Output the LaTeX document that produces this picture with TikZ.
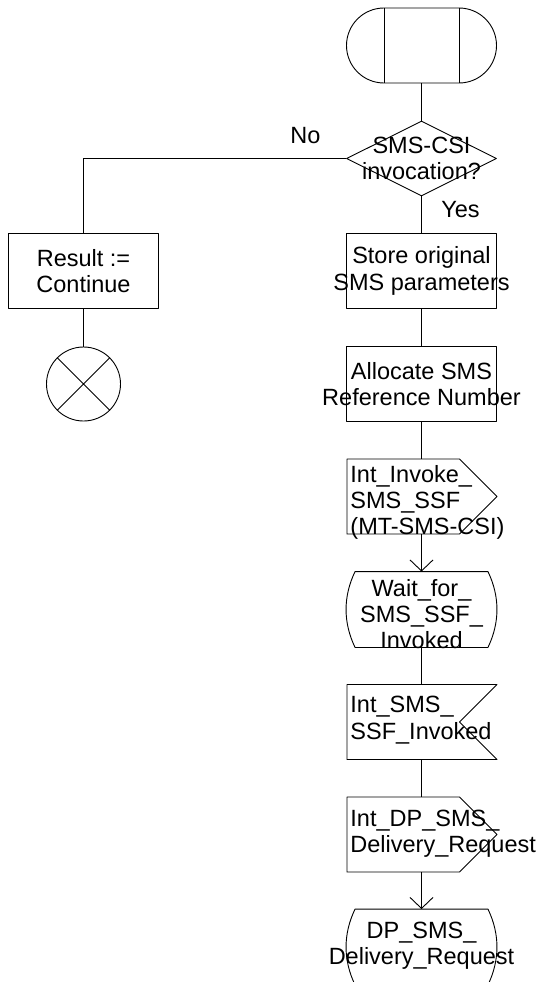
\documentclass[tikz,border=0pt]{standalone}
\usepackage{fontspec}
\setmainfont{Liberation Sans}
\usetikzlibrary{shapes.geometric,shapes.misc,shapes.symbols,arrows.meta}

\begin{document}
\begin{tikzpicture}[x=1pt,y=-1pt, line width=0.9pt, line join=round,
    font=\fontsize{23.5}{26.3}\selectfont,
    every node/.style={inner sep=0pt},
    box/.style={draw, minimum width=150pt, minimum height=75pt},
    txt/.style={align=center},
    txtl/.style={align=left, anchor=west},
    sigout/.style={draw, signal, signal to=east, signal pointer angle=90,
        minimum width=150pt, minimum height=75pt, anchor=west},
    sigin/.style={draw, signal, signal to=nowhere, signal from=east,
        signal pointer angle=90, minimum width=150pt, minimum height=75pt, anchor=west},
    statebox/.style={minimum width=150pt, minimum height=75pt},
    flow/.style={-{Straight Barb[length=11pt,width=23pt]}}]
    % --- Frame ---
    \useasboundingbox (0,0) rectangle (536,982);

    % --- Start and decision ---
    \node[draw, rounded rectangle, minimum width=150pt, minimum height=75pt] (start) at (421.5,45.5) {};
    \draw ([xshift=-37.5pt]start.north) -- ([xshift=-37.5pt]start.south);
    \draw ([xshift=37.5pt]start.north) -- ([xshift=37.5pt]start.south);
    \node[draw, diamond, aspect=2, minimum width=150pt, minimum height=75pt] (dec) at (421.5,158.5) {};
    \node[txt] at (dec) {SMS-CSI\\invocation?};

    % --- No branch ---
    \node[box] (res) at (83.5,271) {};
    \node[txt] at (res) {Result :=\\Continue};
    \node[draw, circle, minimum size=74pt] (stop) at (83.5,384) {};
    \draw (stop.north west) -- (stop.south east) (stop.north east) -- (stop.south west);

    % --- Yes branch ---
    \node[box] (store) at (421.5,271) {};
    \node[txt] at (store) {Store original\\SMS parameters};
    \node[box] (alloc) at (421.5,384) {};
    \node[txt] at (alloc) {Allocate SMS\\Reference Number};
    \node[sigout] (inv) at (346.5,496.5) {};
    \node[txtl] at (350,502.5) {Int\_Invoke\_\\SMS\_SSF\\(MT-SMS-CSI)};
    \node[statebox] (wait) at (421.5,609.5) {};
    \node[txt] at (421.5,614) {Wait\_for\_\\SMS\_SSF\_\\Invoked};
    \node[sigin] (ssfinv) at (346.5,722) {};
    \node[txtl] at (350,720) {Int\_SMS\_\\SSF\_Invoked};
    \node[sigout] (dpreq) at (346.5,834.5) {};
    \node[txtl] at (350,834) {Int\_DP\_SMS\_\\Delivery\_Request};
    \node[statebox] (dpst) at (421.5,947) {};
    \node[txt] at (421.5,946) {DP\_SMS\_\\Delivery\_Request};

    % state symbols
    \foreach \s in {wait,dpst}
        \draw ([xshift=9pt]\s.north west) .. controls +(-12,25) and +(-12,-25) .. ([xshift=9pt]\s.south west)
            -- ([xshift=-9pt]\s.south east) .. controls +(12,-25) and +(12,25) .. ([xshift=-9pt]\s.north east) -- cycle;

    % --- Connectors ---
    \draw (start) -- (dec);
    \draw (dec.west) -| (res.north);
    \node at (305.5,136) {No};
    \draw (dec.south) -- (store.north);
    \node at (460.5,210) {Yes};
    \draw (res) -- (stop);
    \draw (store) -- (alloc);
    \draw (alloc.south) -- (alloc.south |- inv.north);
    \draw[flow] (wait.north |- inv.south) -- (wait.north);
    \draw (wait.south) -- (wait.south |- ssfinv.north);
    \draw (wait.south |- ssfinv.south) -- (wait.south |- dpreq.north);
    \draw[flow] (dpst.north |- dpreq.south) -- (dpst.north);
\end{tikzpicture}
\end{document}
